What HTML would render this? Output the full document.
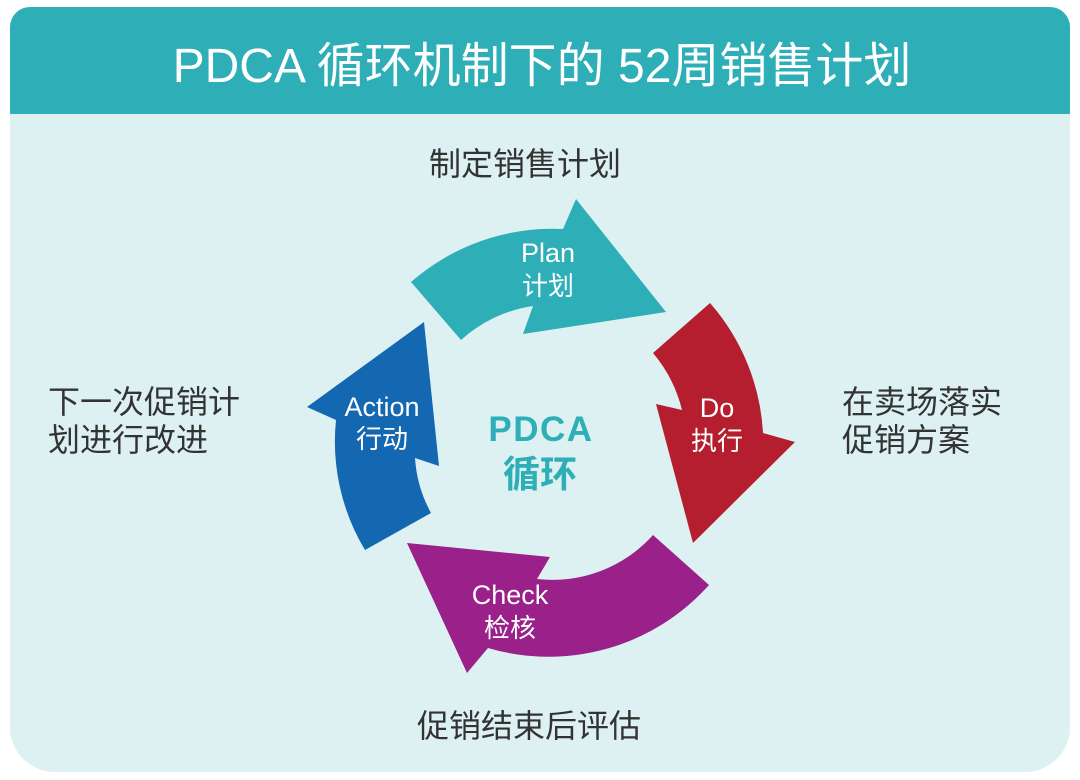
<!DOCTYPE html>
<html>
<head>
<meta charset="utf-8">
<style>
  html,body{margin:0;padding:0;background:#ffffff;}
  svg{display:block;}
  text{font-family:"Liberation Sans","Noto Sans CJK SC",sans-serif;}
</style>
</head>
<body>
<svg width="1080" height="780" viewBox="0 0 1080 780" xmlns="http://www.w3.org/2000/svg">
  <!-- panel -->
  <path d="M10,114 H1070 V727 A45 45 0 0 1 1025,772 H55 A45 45 0 0 1 10,727 Z" fill="#DDF1F3"/>
  <path d="M10,27 A20 20 0 0 1 30,7 H1050 A20 20 0 0 1 1070,27 V114 H10 Z" fill="#2EAEB7"/>
  <text x="542" y="82" text-anchor="middle" font-size="48" fill="#ffffff">PDCA 循环机制下的 52周销售计划</text>

  <!-- arrows -->
  <!-- Plan -->
  <path d="M411,282 A215 215 0 0 1 563,229 L576,199 L666,312 L523,334 L533,306 A137 137 0 0 0 461,340 Z" fill="#2EAEB7"/>
  <!-- Do -->
  <path d="M710,303 A215 215 0 0 1 763,433 L795,442 L693,543 L656,404 L682,410 A140 140 0 0 0 653,353 Z" fill="#B41E2E"/>
  <!-- Check -->
  <path d="M709,585 A215 215 0 0 1 488,648 L467,673 L407,543 L550,557 L537,579 A135 135 0 0 0 653,535 Z" fill="#992189"/>
  <!-- Action -->
  <path d="M365,550 A210 210 0 0 1 336,420 L307,407 L424,322 L439,466 L415,458 A132 132 0 0 0 431,513 Z" fill="#1467B1"/>

  <!-- arrow labels -->
  <g fill="#ffffff" text-anchor="middle">
    <text x="548" y="262" font-size="27">Plan</text>
    <text x="548" y="295" font-size="26">计划</text>
    <text x="717" y="417" font-size="27">Do</text>
    <text x="717" y="450" font-size="26">执行</text>
    <text x="382" y="416" font-size="27">Action</text>
    <text x="382" y="448" font-size="26">行动</text>
    <text x="510" y="604" font-size="27">Check</text>
    <text x="510" y="637" font-size="26">检核</text>
  </g>

  <!-- center -->
  <text x="541" y="441" text-anchor="middle" font-size="35" font-weight="bold" fill="#2EAEB7" letter-spacing="1.5">PDCA</text>
  <text x="540" y="487" text-anchor="middle" font-size="37" font-weight="bold" fill="#2EAEB7">循环</text>

  <!-- side labels -->
  <g fill="#333333" font-size="32">
    <text x="525" y="175" text-anchor="middle">制定销售计划</text>
    <text x="48" y="413">下一次促销计</text>
    <text x="48" y="451">划进行改进</text>
    <text x="842" y="413">在卖场落实</text>
    <text x="842" y="451">促销方案</text>
    <text x="529" y="737" text-anchor="middle">促销结束后评估</text>
  </g>
</svg>
</body>
</html>
